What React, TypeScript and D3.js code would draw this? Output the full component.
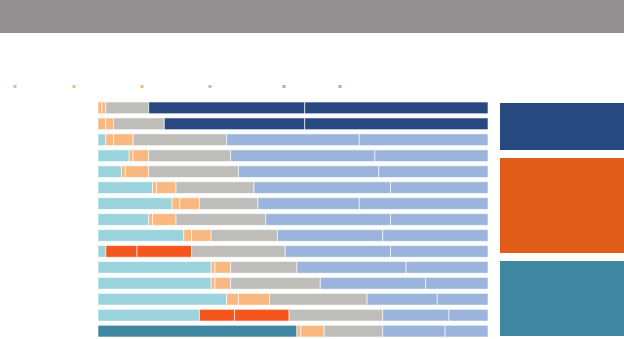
import React from "react";
import * as d3 from "d3";

const rows = ["r1","r2","r3","r4","r5","r6","r7","r8","r9","r10","r11","r12","r13","r14","r15"];
const s1 = [0, 0, 2, 8, 6, 14, 19, 13, 22, 2, 29, 29, 33, 26, 51];
const s2 = [1, 2, 2, 1, 1, 1, 2, 1, 2, 8, 1, 1, 3, 9, 1];
const s3 = [1, 2, 5, 4, 6, 5, 5, 6, 5, 14, 4, 4, 8, 14, 6];
const s4 = [11, 13, 24, 21, 23, 20, 15, 23, 17, 24, 17, 23, 25, 24, 15];
const s5 = [40, 36, 34, 37, 36, 35, 26, 32, 27, 27, 28, 27, 18, 17, 16];
const s6 = [47, 47, 33, 29, 28, 25, 33, 25, 27, 25, 21, 16, 13, 10, 11];
const seriesKeys = ["s1", "s2", "s3", "s4", "s5", "s6"];
// which group is highlighted per row: "teal" | "orange" | "blue" | ""
const highlight = ["blue", "blue", "", "", "", "", "", "", "", "orange", "", "", "", "orange", "teal"];

const baseColors = ["#9ad3dc", "#f8b87f", "#f8b87f", "#bebdba", "#9ab4db", "#9ab4db"];
const hiColors: Record<string, string[]> = {
  teal: ["#3f86a0", "", "", "", "", ""],
  orange: ["", "#f5561d", "#f5561d", "", "", ""],
  blue: ["", "", "", "", "#284880", "#284880"],
};
const legendX = [15, 74, 142, 210, 284, 340];
const boxes = [
  { y0: 103, y1: 150, color: "#284880" },
  { y0: 158, y1: 253, color: "#e35d1a" },
  { y0: 261, y1: 336, color: "#3f86a0" },
];

export default function App() {
  const W = 624, H = 339;
  const table = rows.map((r, i) => ({ row: r, s1: s1[i], s2: s2[i], s3: s3[i], s4: s4[i], s5: s5[i], s6: s6[i] }));
  const stack = d3.stack<any>().keys(seriesKeys)(table);
  const x = d3.scaleLinear().domain([0, 100]).range([98, 488]);
  const y = d3.scaleBand().domain(rows).range([102, 337]).paddingInner(0.266).paddingOuter(0);

  return (
    <svg width={W} height={H} style={{ position: "absolute", left: 0, top: 0 }}>
      <rect x={0} y={0} width={W} height={33} fill="#918f8f" />
      {legendX.map((lx, i) => (
        <rect key={i} x={lx - 1.5} y={85} width={3} height={3} fill={baseColors[i]} />
      ))}
      {stack.map((layer, si) => (
        <g key={si}>
          {layer.map((d, ri) => {
            const w = x(d[1]) - x(d[0]);
            if (w <= 0) return null;
            const h = highlight[ri];
            const col = h && hiColors[h][si] ? hiColors[h][si] : baseColors[si];
            return (
              <rect
                key={ri}
                x={x(d[0])}
                y={y(rows[ri])}
                width={w}
                height={y.bandwidth()}
                fill={col}
                stroke="#fff"
                strokeWidth={1}
                strokeOpacity={0.6}
              />
            );
          })}
        </g>
      ))}
      {boxes.map((b, i) => (
        <rect key={i} x={500} y={b.y0} width={W - 500} height={b.y1 - b.y0} fill={b.color} />
      ))}
    </svg>
  );
}
